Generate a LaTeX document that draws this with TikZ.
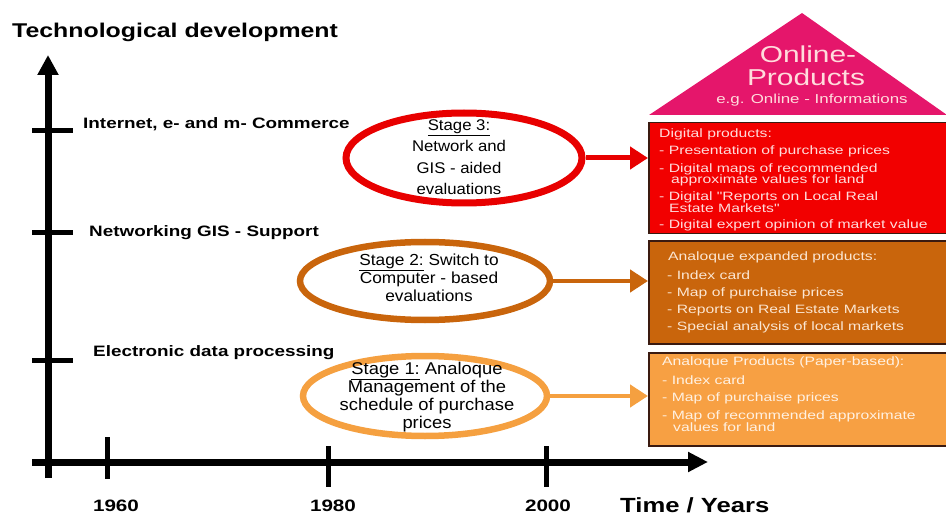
\documentclass[tikz,border=0pt]{standalone}
\usepackage{fontspec}
\setmainfont{Liberation Sans}
\newfontfamily\widefont[FakeStretch=1.25]{Liberation Sans}
\newfontfamily\boxfont[FakeStretch=1.3]{Liberation Sans}
\newfontfamily\ellfont[FakeStretch=1.08]{Liberation Sans}
\usetikzlibrary{arrows.meta,shapes.geometric}
\definecolor{redbox}{HTML}{F20000}
\definecolor{brownbox}{HTML}{C9650C}
\definecolor{orangebox}{HTML}{F7A043}
\definecolor{pinktri}{HTML}{E5166B}
\definecolor{boxborder}{HTML}{3A1A10}
\definecolor{ellred}{HTML}{E80000}
\definecolor{ellbrown}{HTML}{C9650C}
\definecolor{ellorange}{HTML}{F5A040}
\definecolor{redtxt}{HTML}{FFDCDC}
\definecolor{browntxt}{HTML}{FBE6D2}
\definecolor{orangetxt}{HTML}{FFF1E2}
\tikzset{
  axisline/.style={line width=7pt},
  tickline/.style={line width=5pt},
  axlabel/.style={font=\widefont\bfseries\fontsize{15.1}{17}\selectfont, anchor=west, inner sep=0pt},
  yearlabel/.style={font=\widefont\bfseries\fontsize{16.5}{18}\selectfont, inner sep=0pt},
  stageell/.style={ellipse, draw, line width=7pt},
  stagetxt/.style={font=\ellfont\fontsize{16}{19}\selectfont, align=center, inner sep=0pt},
  prodbox/.style={draw=boxborder, line width=1.5pt, anchor=north west, inner sep=0pt},
  boxline/.style={font=\boxfont\fontsize{12.1}{12.5}\selectfont, anchor=west, inner sep=0pt},
  stagearrow/.style={line width=5pt, -{Triangle[length=18pt,width=22pt]}},
}
\begin{document}
\begin{tikzpicture}[x=1pt,y=-1pt]
\useasboundingbox (0,0) rectangle (946,516);
% axes
\coordinate (vbot) at (48,478);
\coordinate (vtop) at (48,55);
\coordinate (hleft) at (32,462);
\coordinate (hright) at (708,462);
\draw[axisline,-{Triangle[length=20pt,width=20pt]}] (vbot) -- (vtop);
\draw[axisline,-{Triangle[length=20pt,width=19pt]}] (hleft) -- (hright);
% y ticks
\coordinate (ya1) at (32,360); \coordinate (yb1) at (73,360);
\coordinate (ya2) at (32,233); \coordinate (yb2) at (73,233);
\coordinate (ya3) at (32,131); \coordinate (yb3) at (73,131);
\draw[tickline] (ya1) -- (yb1);
\draw[tickline] (ya2) -- (yb2);
\draw[tickline] (ya3) -- (yb3);
% x ticks
\coordinate (xa1) at (107,437); \coordinate (xb1) at (107,479);
\coordinate (xa2) at (328,446); \coordinate (xb2) at (328,487);
\coordinate (xa3) at (546,446); \coordinate (xb3) at (546,487);
\draw[tickline] (xa1) -- (xb1);
\draw[tickline] (xa2) -- (xb2);
\draw[tickline] (xa3) -- (xb3);
% axis labels
\node[axlabel, font=\widefont\bfseries\fontsize{19.9}{22}\selectfont] (ttech) at (12,32) {Technological development};
\node[axlabel] (tinet) at (83,124) {Internet, e- and m- Commerce};
\node[axlabel] (tnet) at (89,233) {Networking GIS - Support};
\node[axlabel] (tedp) at (93,353) {Electronic data processing};
\node[yearlabel] (y1960) at (116,506) {1960};
\node[yearlabel] (y1980) at (333,506) {1980};
\node[yearlabel] (y2000) at (548,506) {2000};
\node[axlabel, font=\widefont\bfseries\fontsize{20.5}{23}\selectfont] (ttime) at (620,505) {Time / Years};
% triangle
\coordinate (tl) at (649,115);
\coordinate (tt) at (802,13);
\coordinate (tr) at (947,115);
\fill[pinktri] (tl) -- (tt) -- (tr) -- cycle;
\node[font=\boxfont\fontsize{23}{24}\selectfont, text=redtxt, inner sep=0pt] (on1) at (808,54) {Online-};
\node[font=\boxfont\fontsize{23}{24}\selectfont, text=redtxt, inner sep=0pt] (on2) at (806,77) {Products};
\node[font=\boxfont\fontsize{13}{14}\selectfont, text=redtxt, inner sep=0pt] (on3) at (812,100) {e.g. Online - Informations};
% product boxes
\node[prodbox, fill=redbox, minimum width=302pt, minimum height=111pt] (b3) at (648,122) {};
\node[prodbox, fill=brownbox, minimum width=302pt, minimum height=103pt] (b2) at (648,240) {};
\node[prodbox, fill=orangebox, minimum width=302pt, minimum height=93pt] (b1) at (648,352) {};
% red box text
\begin{scope}[every node/.style={boxline, text=redtxt}]
\node (r1) at (659,134) {Digital products:};
\node (r2) at (659,151) {- Presentation of purchase prices};
\node (r3) at (659,169) {- Digital maps of recommended};
\node (r4) at (671,180) {approximate values for land};
\node (r5) at (659,197) {- Digital "Reports on Local Real};
\node (r6) at (669,208) {Estate Markets"};
\node (r7) at (659,225) {- Digital expert opinion of market value};
\end{scope}
\begin{scope}[every node/.style={boxline, text=browntxt}]
\node (m1) at (668,257) {Analoque expanded products:};
\node (m2) at (667,275) {- Index card};
\node (m3) at (667,293) {- Map of purchaise prices};
\node (m4) at (667,310) {- Reports on Real Estate Markets};
\node (m5) at (667,327) {- Special analysis of local markets};
\end{scope}
\begin{scope}[every node/.style={boxline, text=orangetxt}]
\node (o1) at (662,362) {Analoque Products (Paper-based):};
\node (o2) at (662,380) {- Index card};
\node (o3) at (662,398) {- Map of purchaise prices};
\node (o4) at (662,416) {- Map of recommended approximate};
\node (o5) at (673,427) {values for land};
\end{scope}
% stage ellipses
\node[stageell, draw=ellred, minimum width=236pt, minimum height=90pt] (s3) at (464,158) {};
\node[stageell, draw=ellbrown, line width=6.5pt, minimum width=250pt, minimum height=78pt] (s2) at (425,281) {};
\node[stageell, draw=ellorange, line width=6.5pt, minimum width=244pt, minimum height=80pt] (s1) at (425,396) {};
\node[stagetxt, font=\ellfont\fontsize{15.5}{21.5}\selectfont] (s3t) at (459,157) {\underline{Stage 3:}\\Network and\\GIS - aided\\evaluations};
\node[stagetxt, font=\ellfont\fontsize{16}{18}\selectfont] (s2t) at (429,278) {\underline{Stage 2:} Switch to\\Computer - based\\evaluations};
\node[stagetxt, font=\ellfont\fontsize{17}{18}\selectfont] (s1t) at (427,397) {\underline{Stage 1:} Analoque\\Management of the\\schedule of purchase\\prices};
% arrows
\draw[stagearrow, ellred] (s3.east) -- (b3.west |- s3.east);
\draw[stagearrow, ellbrown, line width=4.5pt] (s2.east) -- (b2.west |- s2.east);
\draw[stagearrow, ellorange, line width=4.5pt] (s1.east) -- (b1.west |- s1.east);
\end{tikzpicture}
\end{document}
